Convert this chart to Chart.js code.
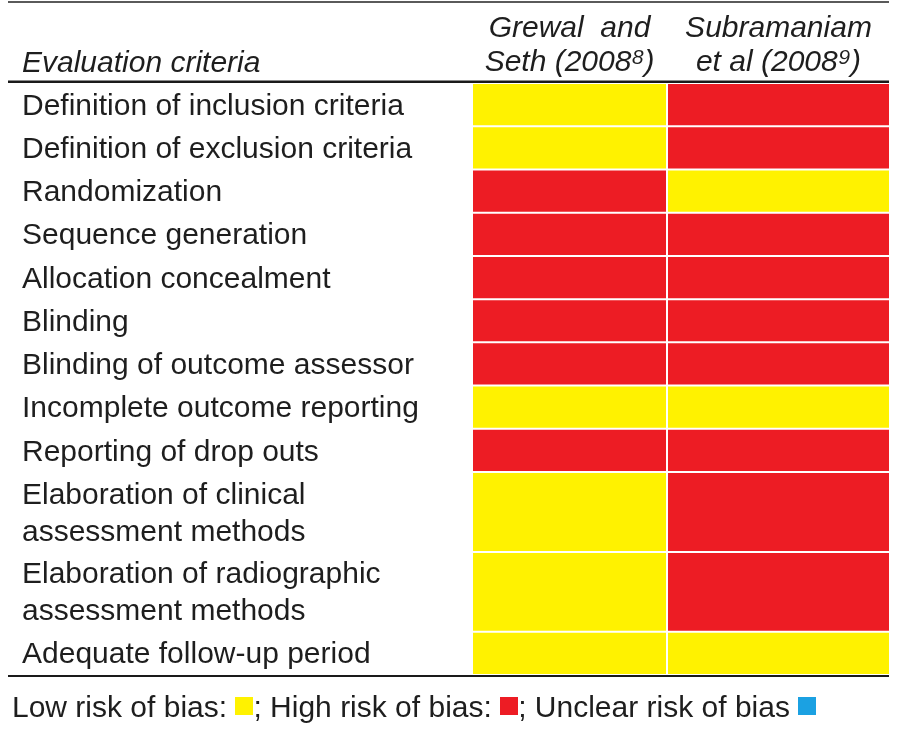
<!DOCTYPE html>
<html>
<head>
<meta charset="utf-8">
<script src="https://cdn.jsdelivr.net/npm/chart.js@4.4.1/dist/chart.umd.min.js"></script>
<style>
    body { margin: 0; background: #ffffff; }
    #wrap { position: relative; width: 900px; height: 730px; }
    #legend {
        position: absolute;
        left: 12px;
        top: 692px;
        font: 30px 'Liberation Sans', Arial, sans-serif;
        line-height: 30px;
        color: #1e1e1e;
        white-space: nowrap;
    }
    .swatch { display: inline-block; width: 18px; height: 18px; vertical-align: 2px; }
</style>
</head>
<body>
<div id="wrap">
    <canvas id="riskChart"></canvas>
    <div id="legend"></div>
</div>
<script>
// Evaluation criteria (one entry per table row, split where the row wraps)
const criteria = [
    ['Definition of inclusion criteria'],
    ['Definition of exclusion criteria'],
    ['Randomization'],
    ['Sequence generation'],
    ['Allocation concealment'],
    ['Blinding'],
    ['Blinding of outcome assessor'],
    ['Incomplete outcome reporting'],
    ['Reporting of drop outs'],
    ['Elaboration of clinical', 'assessment methods'],
    ['Elaboration of radiographic', 'assessment methods'],
    ['Adequate follow-up period']
];

// Studies (columns) and their header text
const studies = ['Grewal and Seth (2008)', 'Subramaniam et al (2008)'];
const studyHeaders = [
    ['Grewal  and', 'Seth (2008\u2078)'],
    ['Subramaniam', 'et al (2008\u2079)']
];

// Risk of bias per criterion
const grewalRisk = ['low', 'low', 'high', 'high', 'high', 'high', 'high', 'low', 'high', 'low', 'low', 'low'];
const subramaniamRisk = ['high', 'high', 'low', 'high', 'high', 'high', 'high', 'low', 'high', 'high', 'high', 'low'];

// Legend entries
const riskKeys = ['low', 'high', 'unclear'];
const riskLabels = ['Low risk of bias:', 'High risk of bias:', 'Unclear risk of bias'];

const riskColors = {
    low: '#fff200',
    high: '#ed1c24',
    unclear: '#1ba1e2'
};
const textColor = '#1e1e1e';
const fontFamily = "'Liberation Sans', Arial, sans-serif";

Chart.defaults.font.family = fontFamily;
Chart.defaults.color = textColor;

// Row extents in "text line" units, a wrapped row is taller
const ROW_PAD = 0.18;
const rowStart = [];
const rowEnd = [];
let total = 0;
criteria.forEach(lines => {
    rowStart.push(total);
    total += lines.length + ROW_PAD;
    rowEnd.push(total);
});
const rowCenter = rowStart.map((s, i) => (s + rowEnd[i]) / 2);

function studyDataset(i, risks, widthPct) {
    return {
        label: studies[i],
        data: criteria.map((c, r) => ({ x: studies[i], y: [rowStart[r], rowEnd[r]] })),
        backgroundColor: risks.map(k => riskColors[k]),
        borderColor: '#ffffff',
        borderWidth: 1,
        borderSkipped: false,
        inflateAmount: 0,
        grouped: false,
        categoryPercentage: 1,
        barPercentage: widthPct,
        clip: false
    };
}

// Table rules and the first header cell
const tableLines = {
    id: 'tableLines',
    afterDraw(chart) {
        const { ctx, chartArea } = chart;
        const x0 = 8;
        const x1 = chart.width - 11;
        ctx.save();
        ctx.lineWidth = 2;
        ctx.strokeStyle = '#5a5a5a';
        ctx.beginPath();
        ctx.moveTo(x0, 2);
        ctx.lineTo(x1, 2);
        ctx.stroke();
        ctx.strokeStyle = '#1a1a1a';
        ctx.lineWidth = 2.5;
        ctx.beginPath();
        ctx.moveTo(x0, chartArea.top - 1.25);
        ctx.lineTo(x1, chartArea.top - 1.25);
        ctx.stroke();
        ctx.lineWidth = 2;
        ctx.beginPath();
        ctx.moveTo(x0, chartArea.bottom + 1);
        ctx.lineTo(x1, chartArea.bottom + 1);
        ctx.stroke();
        ctx.fillStyle = textColor;
        ctx.font = 'italic 30px ' + fontFamily;
        ctx.textBaseline = 'alphabetic';
        ctx.fillText('Evaluation criteria', 22, 72);
        ctx.restore();
    }
};

const ctx = document.getElementById('riskChart').getContext('2d');
new Chart(ctx, {
    type: 'bar',
    data: {
        labels: studies,
        datasets: [
            studyDataset(0, grewalRisk, 195 / 209),
            studyDataset(1, subramaniamRisk, 223 / 209)
        ]
    },
    options: {
        responsive: true,
        maintainAspectRatio: false,
        animation: false,
        layout: {
            padding: { left: 22, right: 17, top: 0, bottom: 55 }
        },
        scales: {
            x: {
                type: 'category',
                position: 'top',
                afterFit: function(axis) {
                    axis.height = 83;
                },
                grid: { display: false },
                border: { display: false },
                ticks: {
                    autoSkip: false,
                    maxRotation: 0,
                    padding: -5,
                    color: textColor,
                    font: { size: 30, style: 'italic', lineHeight: 1.15 },
                    callback: function(value, index) {
                        return studyHeaders[index];
                    }
                }
            },
            y: {
                type: 'linear',
                reverse: true,
                min: 0,
                max: total,
                afterBuildTicks: function(axis) {
                    axis.ticks = rowCenter.map(v => ({ value: v + 0.05 }));
                },
                afterFit: function(axis) {
                    axis.width = 443;
                },
                grid: { display: false },
                border: { display: false },
                ticks: {
                    autoSkip: false,
                    crossAlign: 'far',
                    color: textColor,
                    font: { size: 30, lineHeight: 1.23 },
                    callback: function(value, index) {
                        return criteria[index];
                    }
                }
            }
        },
        plugins: {
            legend: { display: false },
            tooltip: {
                callbacks: {
                    title: function(items) {
                        return criteria[items[0].dataIndex].join(' ');
                    },
                    label: function(context) {
                        const risks = context.datasetIndex === 0 ? grewalRisk : subramaniamRisk;
                        const k = risks[context.dataIndex];
                        return context.dataset.label + ': ' + riskLabels[riskKeys.indexOf(k)].replace(':', '');
                    }
                }
            }
        }
    },
    plugins: [tableLines]
});

// Legend line below the table
const legend = document.getElementById('legend');
riskKeys.forEach((k, i) => {
    legend.appendChild(document.createTextNode((i > 0 ? '; ' : '') + riskLabels[i] + ' '));
    const sw = document.createElement('span');
    sw.className = 'swatch';
    sw.style.background = riskColors[k];
    legend.appendChild(sw);
});
</script>
</body>
</html>
